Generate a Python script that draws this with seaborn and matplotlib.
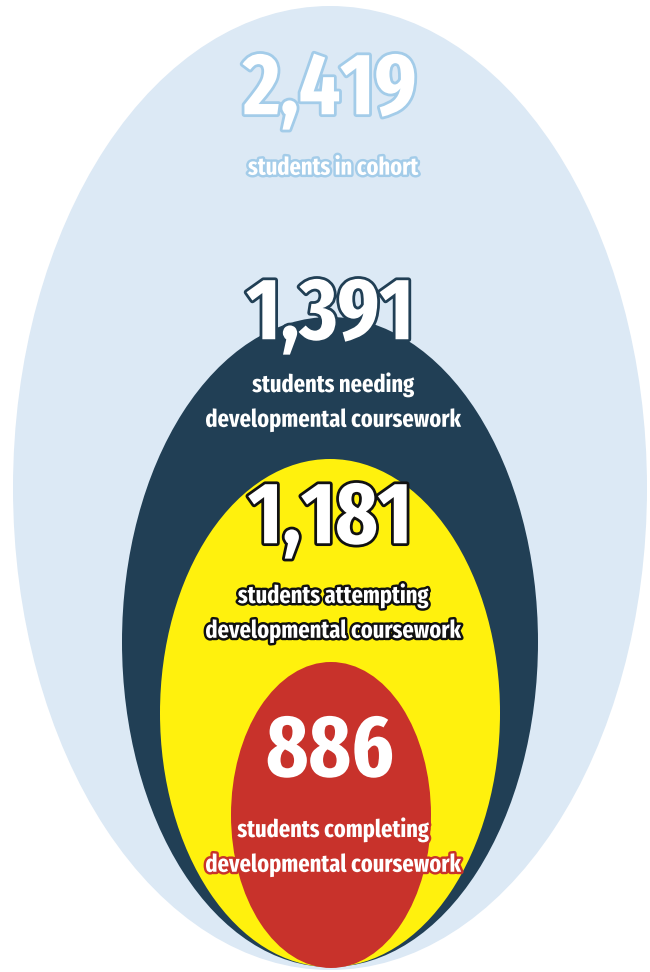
import matplotlib
matplotlib.use("Agg")
import matplotlib.pyplot as plt
import matplotlib.patheffects as pe
from matplotlib.patches import Ellipse
import seaborn as sns

# data
counts = [2419, 1391, 1181, 886]
labels = ["students in cohort",
          "students needing\ndevelopmental coursework",
          "students attempting\ndevelopmental coursework",
          "students completing\ndevelopmental coursework"]

# layout (pixel space, y down): ellipse centre / size, text rows
ell_cx = [330, 330, 330, 331]
ell_cy = [488, 642, 713, 815]
ell_w = [634, 416, 340, 200]
ell_h = [964, 650, 508, 306]
num_y = [90, 315, 519, 752]
lab_y = [168, 385, 596, 830]
line_gap = 35

fills = ["#dce9f5", "#213f55", "#fff10d", "#c8322b"]
strokes = ["#a3cce9", "#213f55", "#111111", "#c8322b"]

sns.set_theme(style="white")
plt.rcParams["font.family"] = ["Fira Sans Extra Condensed", "DejaVu Sans"]

fig = plt.figure(figsize=(6.5, 9.72), dpi=100)
ax = fig.add_axes([0, 0, 1, 1])
ax.set_xlim(0, 650)
ax.set_ylim(972, 0)
ax.axis("off")

# nested ellipses, all sitting on the same bottom line
for i in range(len(counts)):
    ax.add_patch(Ellipse((ell_cx[i], ell_cy[i]), ell_w[i], ell_h[i],
                         facecolor=fills[i], edgecolor="none", zorder=i + 1))

# big numbers and their captions
for i in range(len(counts)):
    ax.text(330, num_y[i], f"{counts[i]:,}", ha="center", va="center",
            fontsize=63, fontweight="bold", color="white",
            path_effects=[pe.withStroke(linewidth=4, foreground=strokes[i])],
            zorder=10)
    for j, line in enumerate(labels[i].split("\n")):
        ax.text(333, lab_y[i] + j * line_gap, line, ha="center", va="center",
                fontsize=17.5, fontweight="bold", color="white",
                path_effects=[pe.withStroke(linewidth=3.5, foreground=strokes[i])],
                zorder=10)

fig.savefig("out.png", dpi=100, facecolor="white")
